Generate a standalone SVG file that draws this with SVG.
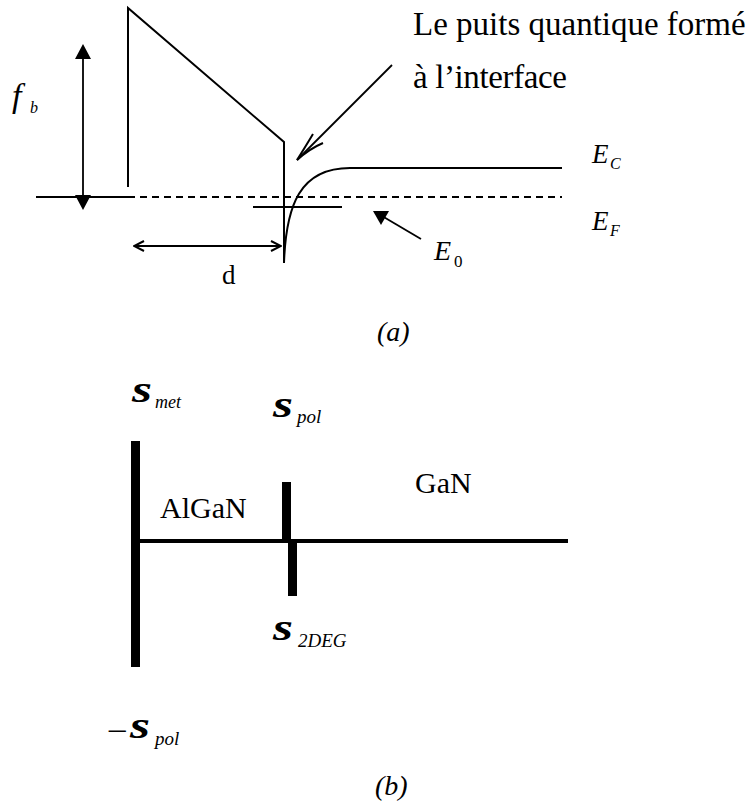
<svg xmlns="http://www.w3.org/2000/svg" width="751" height="805" viewBox="0 0 751 805">
<style>
.ln{fill:none;stroke:#000;stroke-width:2}
.thin{fill:none;stroke:#000;stroke-width:1.8}
.hd{fill:#000;stroke:none}
.bar{fill:#000;stroke:none}
.t{font-family:"Liberation Serif","Times New Roman",serif;fill:#000}
.i{font-style:italic}
.sg{font-style:italic;font-weight:bold}
</style>
<defs>
<marker id="open" viewBox="0 0 12 12" refX="11" refY="6" markerWidth="12" markerHeight="12" markerUnits="userSpaceOnUse" orient="auto-start-reverse">
<path d="M1,1 L11,6 L1,11" fill="none" stroke="#000" stroke-width="2"/>
</marker>
</defs>
<rect width="751" height="805" fill="#fff"/>

<g id="connectors">
<path id="barrier" class="ln" d="M128,187 L128,8 L284,142 L284,263"/>
<line id="fermi-metal" class="ln" x1="36" y1="197" x2="128" y2="197"/>
<line id="fermi-dash" class="ln" x1="128" y1="197" x2="562" y2="197" stroke-dasharray="7,5"/>
<path id="conduction" class="ln" d="M284,263 C286,205 300,168 350,168 L562,168"/>
<line id="e0-level" class="ln" x1="253" y1="207" x2="342" y2="207"/>
<line class="thin" x1="83" y1="56" x2="83" y2="197"/>
<path class="hd" d="M83,44 L91,59 L75,59 Z"/>
<path class="hd" d="M83,210 L91,195 L75,195 Z"/>
<line class="thin" x1="134" y1="246" x2="281" y2="246" marker-start="url(#open)" marker-end="url(#open)"/>
<line class="thin" x1="392" y1="65" x2="297" y2="160"/>
<path class="ln" d="M313,134 Q304,149 297,160 Q309,149 323,143"/>
<line class="thin" x1="421" y1="239" x2="382" y2="216"/>
<path class="hd" d="M373,211 L389,211 L381,225 Z"/>
</g>

<g id="label-phib">
<text class="t i" x="12" y="107" font-size="34">f</text>
<text class="t i" x="30" y="113" font-size="16">b</text>
</g>
<g id="label-title">
<text class="t" x="413" y="35" font-size="33">Le puits quantique formé</text>
<text class="t" x="413" y="88" font-size="33" textLength="154" lengthAdjust="spacing">à l’interface</text>
</g>
<g id="label-EC">
<text class="t i" x="592" y="163" font-size="27">E</text>
<text class="t i" x="610" y="169" font-size="16">C</text>
</g>
<g id="label-EF">
<text class="t i" x="592" y="230" font-size="27">E</text>
<text class="t i" x="610" y="236" font-size="16">F</text>
</g>
<g id="label-E0">
<text class="t i" x="434" y="260" font-size="28">E</text>
<text class="t" x="454" y="267" font-size="17">0</text>
</g>
<g id="label-d">
<text class="t" x="222" y="284" font-size="27">d</text>
</g>
<g id="label-a">
<text class="t i" x="377" y="341" font-size="28">(a)</text>
</g>

<g id="part-b">
<rect id="bar-met" class="bar" x="131" y="441" width="9" height="226"/>
<rect id="line-axis" class="bar" x="136" y="539" width="432" height="4"/>
<rect id="bar-pol" class="bar" x="282" y="482" width="9" height="59"/>
<rect id="bar-2deg" class="bar" x="288" y="541" width="9" height="55"/>
</g>
<g id="label-smet">
<text class="t sg" x="132" y="402" font-size="38" textLength="20" lengthAdjust="spacingAndGlyphs">s</text>
<text class="t i" x="155" y="408" font-size="18">met</text>
</g>
<g id="label-spol">
<text class="t sg" x="273" y="417" font-size="38" textLength="20" lengthAdjust="spacingAndGlyphs">s</text>
<text class="t i" x="297" y="423" font-size="19">pol</text>
</g>
<g id="label-algan">
<text class="t" x="160" y="518" font-size="30">AlGaN</text>
</g>
<g id="label-gan">
<text class="t" x="415" y="493" font-size="30">GaN</text>
</g>
<g id="label-s2deg">
<text class="t sg" x="273" y="640" font-size="38" textLength="20" lengthAdjust="spacingAndGlyphs">s</text>
<text class="t i" x="298" y="647" font-size="19">2DEG</text>
</g>
<g id="label-mspol">
<text class="t" x="107" y="741" font-size="30" textLength="21" lengthAdjust="spacingAndGlyphs">−</text>
<text class="t sg" x="130" y="738" font-size="38" textLength="20" lengthAdjust="spacingAndGlyphs">s</text>
<text class="t i" x="155" y="745" font-size="19">pol</text>
</g>
<g id="label-b">
<text class="t i" x="375" y="795" font-size="28">(b)</text>
</g>
</svg>
